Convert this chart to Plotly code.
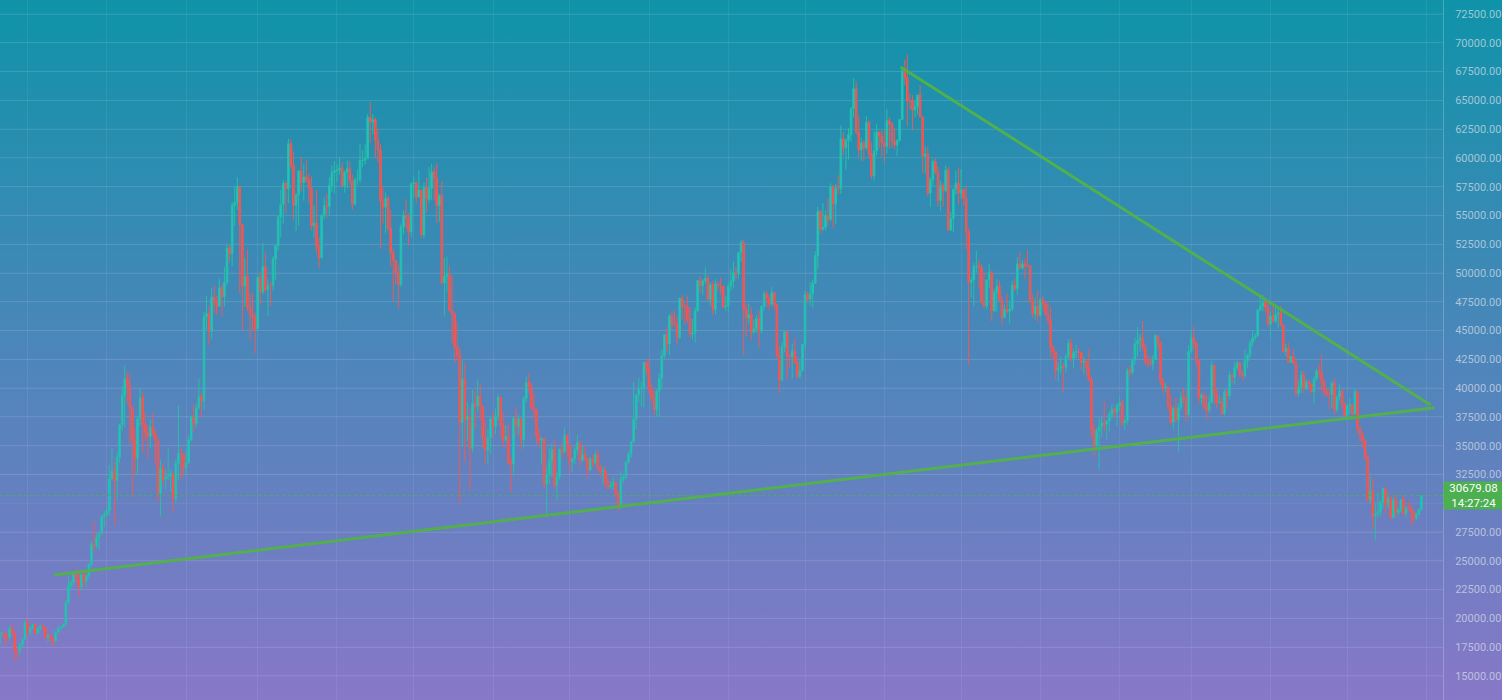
import base64
import pandas as pd
import plotly.graph_objects as go

# ---------------- data (BTC/USD daily) ----------------
start_date = "2020-11-20"
first_open = 17800

close_by_month = [
    [18680, 18720, 18420, 18370, 19160, 18720, 17150, 17140, 17720, 18180, 19625],
    [18800, 19200, 19450, 18700, 19150, 19360, 19170, 18320, 18550, 18250, 18030, 18800, 19140, 19250, 19440, 21380, 22850, 23130, 23870, 23480, 22750, 23820, 23240, 23730, 24710, 26440, 26280, 27040, 27360, 28840, 29000],
    [29370, 32130, 32780, 31970, 33990, 36820, 39370, 40800, 40250, 38350, 35560, 33920, 37320, 39190, 36830, 36180, 35790, 36630, 36070, 35550, 30830, 33010, 32080, 32260, 32370, 32570, 30430, 33470, 34320, 34270, 33110],
    [33520, 35510, 37470, 36930, 38290, 39260, 38900, 46200, 46480, 44920, 47910, 47500, 47110, 48720, 47940, 49200, 52150, 51680, 55890, 56100, 57540, 54200, 48880, 49710, 47090, 46340, 46190, 45140],
    [49630, 48380, 50540, 48560, 48930, 48910, 51210, 52380, 54880, 55960, 57800, 57330, 61240, 59340, 55890, 56800, 58870, 57860, 58350, 58090, 57350, 54090, 54340, 52300, 51320, 55030, 55840, 55780, 57630, 58730, 58920],
    [58920, 59100, 57600, 58760, 59060, 58020, 56000, 58090, 58100, 59770, 59790, 59980, 63500, 63110, 63310, 61570, 60680, 56250, 55720, 56470, 53910, 51760, 51090, 50050, 49000, 54020, 55030, 54820, 53560, 57750],
    [57830, 56630, 57200, 53330, 57420, 56400, 57360, 58800, 58230, 55860, 56750, 49150, 49720, 49880, 46760, 46450, 43540, 42910, 37000, 40780, 37300, 37540, 34770, 38700, 38400, 39290, 38440, 35700, 34620, 35680, 37330],
    [36690, 37570, 39190, 36830, 35520, 35800, 33560, 33400, 37390, 36700, 37340, 35550, 39100, 40520, 40140, 38350, 38090, 35820, 35480, 35600, 31680, 32500, 33690, 34660, 31590, 32280, 34700, 34500, 35910, 35040],
    [33570, 33900, 34660, 35290, 33750, 34240, 33860, 32880, 33820, 33520, 34260, 33090, 32730, 32820, 31780, 31420, 31530, 31800, 30820, 29810, 32110, 32310, 33580, 34290, 35350, 37340, 39410, 39990, 40020, 42240, 41630],
    [39970, 39200, 38150, 39750, 40870, 42820, 44620, 43830, 46290, 45600, 45590, 44430, 47790, 47100, 47050, 46000, 44700, 44800, 46720, 49340, 48900, 49320, 49550, 47710, 48990, 46850, 49070, 48900, 48830, 47050, 47170],
    [48850, 49280, 50030, 49940, 51770, 52660, 46860, 46090, 46400, 44850, 45160, 46060, 44960, 47090, 48180, 47780, 47300, 48300, 47260, 42840, 40690, 43570, 44900, 42840, 42720, 43210, 42240, 41030, 41520, 43790],
    [48120, 47710, 48200, 49110, 51510, 55360, 53800, 53970, 54970, 54660, 57490, 56010, 57370, 57350, 61670, 60880, 61530, 62010, 64280, 66000, 62210, 60690, 61290, 60860, 63080, 60330, 58480, 60620, 62230, 61890, 61320],
    [61000, 63230, 62970, 61450, 61130, 61530, 63330, 67570, 66950, 64990, 64950, 64160, 64470, 65470, 63560, 60160, 60370, 56940, 58120, 59700, 58740, 56290, 57570, 57180, 58960, 53730, 54720, 57270, 57810, 56950],
    [57200, 56510, 53600, 49200, 49400, 50580, 50580, 50470, 47540, 47140, 49390, 50050, 46700, 48340, 48860, 47630, 46130, 46830, 46680, 46880, 48940, 48630, 50800, 50430, 50800, 50640, 50640, 47590, 46440, 47120, 46310],
    [47690, 47350, 46460, 45900, 43570, 43160, 41550, 41730, 41870, 41820, 42740, 43920, 42590, 43100, 43180, 43110, 42250, 42370, 41740, 40700, 36460, 35030, 36280, 36680, 36970, 36850, 37140, 37710, 38170, 37920, 38480],
    [38740, 36950, 37150, 41570, 41380, 42410, 43840, 44120, 44380, 43560, 42410, 42200, 42080, 42540, 44580, 43960, 40550, 40000, 40120, 38430, 37020, 38270, 37260, 38330, 39220, 39120, 37710, 43190],
    [44420, 43920, 42450, 39150, 39400, 38420, 38060, 38740, 41980, 39440, 38730, 38810, 37790, 39670, 39340, 41140, 40950, 41800, 42190, 41250, 41080, 42360, 42890, 43960, 44350, 44540, 46820, 47130, 47430, 47060, 45540],
    [46280, 45810, 46410, 46580, 45500, 43170, 43440, 42250, 42750, 42160, 39530, 40070, 41150, 39940, 40550, 40390, 39680, 40800, 41500, 41370, 40480, 39710, 39470, 39450, 40430, 38120, 39240, 39740, 38600, 37630],
    [38470, 38530, 37750, 39690, 36550, 36010, 35470, 34060, 30300, 31020, 28940, 29050, 29280, 30080, 31300, 29860, 30420, 28720, 30310, 29200, 29430, 30320, 29100, 29650, 29560, 29270, 28630, 29030, 29470, 30679.08],
]

high_by_month = [
    [18800, 18950, 18740, 18770, 19400, 19480, 18910, 17460, 17850, 18330, 19860],
    [19920, 19300, 19580, 19510, 19160, 19410, 19410, 19290, 18650, 18560, 18280, 18930, 19390, 19350, 19550, 21560, 23780, 23290, 24100, 24260, 24100, 23840, 24090, 23810, 24780, 26720, 28400, 27390, 27410, 28990, 29300],
    [29600, 33300, 34780, 33600, 34440, 36940, 40180, 41950, 41350, 41350, 38260, 36620, 37600, 40000, 39690, 37860, 36850, 37300, 37850, 36380, 35550, 33810, 33440, 32940, 34880, 32930, 32550, 33780, 38500, 34830, 34280],
    [34640, 35930, 37630, 38590, 38700, 40830, 39620, 46630, 48050, 47160, 48680, 48850, 48020, 49550, 49000, 50500, 52550, 52500, 56200, 57500, 58350, 57500, 54200, 51290, 52020, 48340, 48250, 46580],
    [49790, 50130, 52620, 51770, 49450, 49200, 51450, 52410, 54900, 57260, 58060, 57930, 61680, 61600, 60560, 56920, 58950, 60060, 59440, 59870, 58600, 58400, 55840, 57200, 53120, 55070, 56570, 56890, 58340, 59370, 59720],
    [59470, 60040, 59590, 58900, 59780, 59700, 58540, 58300, 58970, 61200, 60640, 61190, 63800, 64850, 63800, 63530, 62490, 61200, 57480, 57000, 56700, 55440, 52100, 51100, 50700, 54300, 55440, 56400, 55160, 57900],
    [58400, 57950, 58930, 57200, 57880, 58290, 59200, 59490, 59250, 59520, 56850, 58000, 51330, 51440, 50640, 49740, 46600, 45760, 43500, 42430, 42170, 38780, 38230, 39840, 39750, 40750, 40340, 38170, 37280, 36400, 37470],
    [37890, 38220, 39480, 39240, 37920, 36790, 36900, 34020, 37530, 38330, 37680, 37440, 39320, 41000, 41300, 40500, 39500, 38200, 36420, 35750, 35760, 33300, 34810, 35220, 35490, 32700, 34700, 35270, 36600, 36000],
    [35030, 33950, 34920, 35940, 35290, 35070, 35000, 33930, 34030, 34250, 34600, 34650, 33330, 33150, 33180, 32200, 31950, 32400, 31900, 31010, 32800, 32590, 33610, 34480, 35380, 40550, 39440, 40870, 40600, 42290, 42400],
    [42600, 40460, 39780, 39970, 41300, 43340, 44700, 45310, 46420, 46690, 46700, 46180, 47880, 48100, 47370, 48020, 47070, 46000, 47050, 49360, 49760, 49490, 50480, 49810, 49200, 49330, 49470, 49300, 49620, 48880, 48000],
    [49120, 50340, 51020, 50520, 51860, 52850, 52920, 47330, 47350, 47030, 45980, 46360, 46760, 47220, 48450, 48460, 48130, 48790, 48370, 47350, 43610, 44000, 45010, 44990, 42960, 43870, 44300, 42760, 42410, 43880],
    [48460, 48340, 49230, 49420, 51890, 55750, 55330, 56100, 55450, 56470, 57800, 57640, 57730, 58500, 62820, 62230, 61690, 62580, 64430, 66930, 66640, 63710, 61750, 61540, 63640, 63260, 61360, 62340, 62900, 62300, 62370],
    [62420, 64270, 63520, 63100, 62550, 61590, 63300, 67740, 68530, 69000, 65570, 65450, 64990, 65470, 66340, 63440, 61000, 60960, 58340, 59860, 60000, 59260, 58000, 57840, 59350, 59210, 55280, 57390, 58870, 59180],
    [59040, 57380, 57600, 53900, 49710, 50880, 51930, 51200, 50780, 50020, 49470, 50800, 50200, 48620, 49470, 49350, 48010, 47270, 48240, 47500, 49320, 49550, 51370, 51800, 51180, 51270, 52010, 50650, 48100, 47880, 48470],
    [47830, 47990, 47560, 47490, 47040, 43730, 43130, 42290, 42750, 42220, 43000, 44270, 44320, 43420, 43770, 43480, 43150, 42670, 42510, 43390, 41050, 36810, 36550, 37450, 37530, 38880, 37220, 38000, 38600, 38280, 38700],
    [39230, 38970, 37380, 41720, 41930, 42640, 44380, 45320, 44730, 45820, 43870, 42950, 42730, 42860, 44710, 44560, 44080, 40890, 40440, 40110, 39410, 38380, 39190, 38700, 39660, 40050, 39790, 43730],
    [44950, 45340, 44070, 42510, 39620, 39660, 39400, 39310, 42380, 42040, 39960, 39360, 39270, 39900, 39840, 41470, 41270, 42300, 42390, 42250, 41510, 43330, 43000, 44180, 45000, 44780, 46890, 48150, 48100, 47690, 47600],
    [46670, 47180, 47040, 46880, 47140, 45470, 43860, 43950, 42790, 43400, 42400, 40670, 41530, 41480, 40810, 40630, 40440, 41060, 41710, 42150, 42920, 40790, 39970, 39910, 40590, 40780, 39420, 40320, 39890, 38780],
    [38650, 39150, 38640, 39900, 39790, 36630, 36130, 35500, 34230, 32600, 32160, 30030, 30980, 30280, 31330, 31300, 30740, 30660, 30540, 30740, 29600, 30410, 30640, 29830, 30210, 29860, 29380, 29230, 29500, 30700],
]

low_by_month = [
    [17750, 18510, 17610, 18010, 18030, 18620, 16330, 16520, 16880, 17520, 18180],
    [18330, 18530, 19080, 18620, 18700, 18950, 18970, 18240, 17940, 17930, 17580, 18050, 18720, 19000, 19210, 19400, 21230, 22420, 22780, 23090, 21880, 22380, 22720, 22700, 23480, 24520, 25870, 26090, 25860, 27360, 27970],
    [28800, 28950, 31960, 28130, 30250, 33500, 36340, 36620, 38720, 35110, 30550, 32530, 32430, 36720, 34410, 35400, 33850, 34740, 35770, 33480, 30120, 28850, 31560, 31210, 31960, 30990, 29270, 30000, 31990, 32160, 32300],
    [32340, 33450, 35370, 36270, 36590, 38150, 37460, 38120, 45100, 43760, 44240, 46500, 46350, 47090, 46240, 47060, 48970, 50990, 50600, 54100, 55500, 48200, 45000, 47070, 46720, 44170, 45000, 43020],
    [45120, 47230, 48150, 48280, 46300, 47120, 48440, 49410, 51910, 53080, 54270, 55250, 56080, 59040, 54640, 53650, 54120, 57060, 56300, 57870, 56080, 53700, 53080, 51700, 50460, 51440, 54690, 54860, 55000, 57040, 56890],
    [57950, 58550, 57420, 56980, 57360, 57680, 55500, 55840, 57630, 57830, 59210, 59420, 59890, 61300, 62020, 60050, 59590, 52130, 54320, 53500, 53640, 50580, 47500, 49000, 46930, 48820, 53380, 53890, 52370, 53090],
    [56500, 56090, 56500, 53050, 52980, 55310, 56060, 56320, 56310, 54380, 54450, 48990, 46300, 48400, 46660, 43920, 42200, 42390, 30000, 34960, 33570, 35380, 31110, 34470, 36470, 37850, 37240, 34810, 33480, 33440, 34250],
    [35700, 35990, 37190, 35640, 34850, 35290, 33350, 31000, 32400, 35840, 35960, 34650, 34780, 38730, 39510, 38120, 37400, 35130, 34820, 33350, 31300, 28800, 31730, 32300, 31300, 30200, 32050, 33900, 34280, 34060],
    [32730, 32740, 33410, 34210, 33220, 33560, 33690, 32130, 32810, 33080, 33310, 32820, 32220, 31700, 31340, 31190, 31240, 31160, 30480, 29300, 29480, 31770, 32060, 33450, 33910, 35270, 36440, 38800, 38380, 38330, 41070],
    [39460, 38760, 37640, 37510, 37450, 39860, 42540, 43120, 42880, 45020, 45380, 43800, 44250, 45980, 45520, 45680, 44410, 44250, 43930, 46670, 48290, 48130, 49050, 47590, 47180, 46350, 46420, 48380, 48120, 46960, 46750],
    [46540, 48450, 48630, 49460, 49500, 50970, 42900, 44520, 45540, 44200, 44760, 44830, 43500, 44780, 46760, 47050, 46810, 47080, 46860, 42570, 39600, 40580, 43120, 40830, 41740, 40850, 42090, 40890, 40830, 41430],
    [43320, 47440, 47170, 46990, 49070, 50380, 53450, 53700, 53680, 54120, 54460, 53880, 54230, 56840, 56880, 60210, 58970, 59870, 61410, 63550, 62050, 60040, 59740, 59700, 60740, 59930, 58160, 58030, 60200, 60810, 60140],
    [59600, 60380, 60790, 60870, 60740, 60180, 61390, 63310, 66330, 62820, 64200, 62400, 63520, 63780, 63530, 58630, 58650, 56660, 55730, 57580, 58610, 55760, 55420, 55760, 56990, 53640, 53650, 53530, 56800, 55940],
    [56450, 55850, 52060, 42000, 47810, 47100, 50040, 48640, 47350, 46950, 46850, 48690, 45810, 46680, 46580, 47580, 45530, 46150, 46500, 45600, 46690, 48480, 48100, 50410, 50250, 49520, 50480, 47410, 46100, 45940, 45730],
    [46200, 46730, 46270, 45560, 42600, 42500, 40750, 40560, 41270, 39650, 41300, 42480, 42330, 41740, 42600, 42580, 41590, 41300, 41100, 40600, 35750, 34060, 34630, 32950, 35740, 36260, 35510, 36220, 37370, 37400, 36720],
    [38010, 36680, 36370, 36810, 40950, 41180, 42010, 42790, 43160, 43200, 42000, 41790, 41890, 41600, 42470, 43350, 40230, 39490, 39640, 38060, 36850, 36430, 37070, 34460, 38110, 38620, 37050, 37480],
    [43000, 43410, 41910, 38670, 38590, 38110, 37240, 37870, 38690, 38610, 38280, 38680, 37640, 37620, 38280, 39050, 40430, 40290, 41580, 40960, 40630, 40900, 41730, 42600, 43590, 44170, 44450, 46640, 46660, 46580, 45280],
    [44270, 45670, 45640, 45180, 45400, 43120, 42770, 42150, 42200, 42150, 39250, 39250, 39560, 39620, 39830, 39990, 39560, 38560, 40590, 40880, 39750, 39250, 39300, 38210, 38280, 37710, 37900, 38910, 38210, 37580],
    [37390, 37700, 37520, 37700, 36090, 35290, 34820, 33800, 30100, 29940, 27840, 26780, 28720, 28870, 29520, 29140, 29490, 28690, 28730, 28780, 28990, 29230, 28940, 28800, 29350, 28060, 28350, 28630, 28890, 29330],
]

# trend lines drawn on the chart (date, price)
lower_trend_dates = ["2020-12-11 09:00", "2022-06-04 03:00"]
lower_trend_values = [23770, 38300]
upper_trend_dates = ["2021-11-07 09:00", "2022-06-02 14:00"]
upper_trend_values = [67900, 38540]

last_price = 30679.08
countdown_text = "14:27:24"
# the 30000.00 tick is hidden behind the last-price label in the reference
y_tick_values = [v for v in range(15000, 72501, 2500) if v != 30000]
y_tick_labels = [f"{v:.2f}" for v in y_tick_values]
y_grid_values = list(range(15000, 72501, 2500))

# ---------------- build table ----------------
for i, (c, h, l) in enumerate(zip(close_by_month, high_by_month, low_by_month)):
    assert len(c) == len(h) == len(l), (i, len(c), len(h), len(l))

close = [v for m in close_by_month for v in m]
high = [v for m in high_by_month for v in m]
low = [v for m in low_by_month for v in m]
open_ = [first_open] + close[:-1]
high = [max(h, o, c) for h, o, c in zip(high, open_, close)]
low = [min(l, o, c) for l, o, c in zip(low, open_, close)]
dates = pd.date_range(start_date, periods=len(close), freq="D")

# ---------------- figure ----------------
UP_FILL = "#19c6d8"
UP_LINE = "#27bfa6"
DN_FILL = "#f0524f"
DN_LINE = "#ef5a57"
TREND = "rgba(82,178,72,0.95)"
LABEL_GREEN = "#4caf50"
GRID = "rgba(255,255,255,0.07)"

fig = go.Figure()
fig.add_trace(go.Candlestick(
    x=dates, open=open_, high=high, low=low, close=close,
    increasing=dict(fillcolor=UP_FILL, line=dict(color=UP_LINE, width=1)),
    decreasing=dict(fillcolor=DN_FILL, line=dict(color=DN_LINE, width=1)),
    whiskerwidth=0, showlegend=False, hoverinfo="skip",
))
fig.add_trace(go.Scatter(x=lower_trend_dates, y=lower_trend_values, mode="lines",
                         line=dict(color=TREND, width=3), showlegend=False, hoverinfo="skip"))
fig.add_trace(go.Scatter(x=upper_trend_dates, y=upper_trend_values, mode="lines",
                         line=dict(color=TREND, width=3), showlegend=False, hoverinfo="skip"))

# horizontal grid lines (including 30000, whose label is hidden)
for gv in y_grid_values:
    fig.add_shape(type="line", xref="paper", x0=0, x1=1, yref="y", y0=gv, y1=gv,
                  line=dict(color=GRID, width=1), layer="below")

# dotted last-price line
fig.add_shape(type="line", xref="paper", x0=0, x1=1, yref="y", y0=last_price, y1=last_price,
              line=dict(color="rgba(76,175,80,0.9)", width=1, dash="dot"), layer="above")

# gradient background (teal -> purple)
svg = ('<svg xmlns="http://www.w3.org/2000/svg" width="10" height="100" preserveAspectRatio="none">'
       '<defs><linearGradient id="g" x1="0" y1="0" x2="0" y2="1">'
       '<stop offset="0" stop-color="#0f93a9"/><stop offset="0.5" stop-color="#4c86ba"/>'
       '<stop offset="1" stop-color="#8878c8"/></linearGradient></defs>'
       '<rect x="0" y="0" width="10" height="100" fill="url(#g)"/></svg>')
svg_uri = "data:image/svg+xml;base64," + base64.b64encode(svg.encode()).decode()

W, H = 1502, 700
PLOT_R = 1443
fig.add_layout_image(dict(source=svg_uri, xref="paper", yref="paper", x=0, y=1,
                          sizex=W / PLOT_R, sizey=1, xanchor="left", yanchor="top",
                          sizing="stretch", layer="below"))

fig.add_annotation(xref="paper", x=1, xanchor="left", yref="y", y=last_price, yanchor="middle",
                   text=f"{last_price:.2f}<br>{countdown_text}", showarrow=False,
                   bgcolor=LABEL_GREEN, width=59, height=27, borderpad=0, align="center",
                   xshift=0, font=dict(family="Roboto, Arial", size=11.5, color="white"))

fig.update_layout(
    width=W, height=H,
    margin=dict(l=0, r=W - PLOT_R, t=0, b=0, pad=0),
    paper_bgcolor="#4c86ba", plot_bgcolor="rgba(0,0,0,0)",
    boxgap=0.1,
    xaxis=dict(type="date", range=["2020-11-20 05:40", "2022-06-07 10:50"],
               rangeslider=dict(visible=False), showticklabels=False,
               tick0="2020-12-01", dtick="M1", showgrid=True,
               gridcolor=GRID, gridwidth=1, zeroline=False, showline=False),
    yaxis=dict(side="right", range=[12914, 73716], tickmode="array",
               tickvals=y_tick_values, ticktext=y_tick_labels, ticks="",
               ticklabelstandoff=9, showgrid=True, gridcolor=GRID,
               gridwidth=1, zeroline=False, showline=True, linecolor="rgba(255,255,255,0.22)",
               linewidth=1, tickfont=dict(family="Roboto, Arial", size=11, color="rgba(215,222,232,0.72)")),
    hovermode=False,
)

fig.write_html("out.html", config={"displayModeBar": False},
               post_script="document.body.style.margin='0';document.body.style.overflow='hidden';")
